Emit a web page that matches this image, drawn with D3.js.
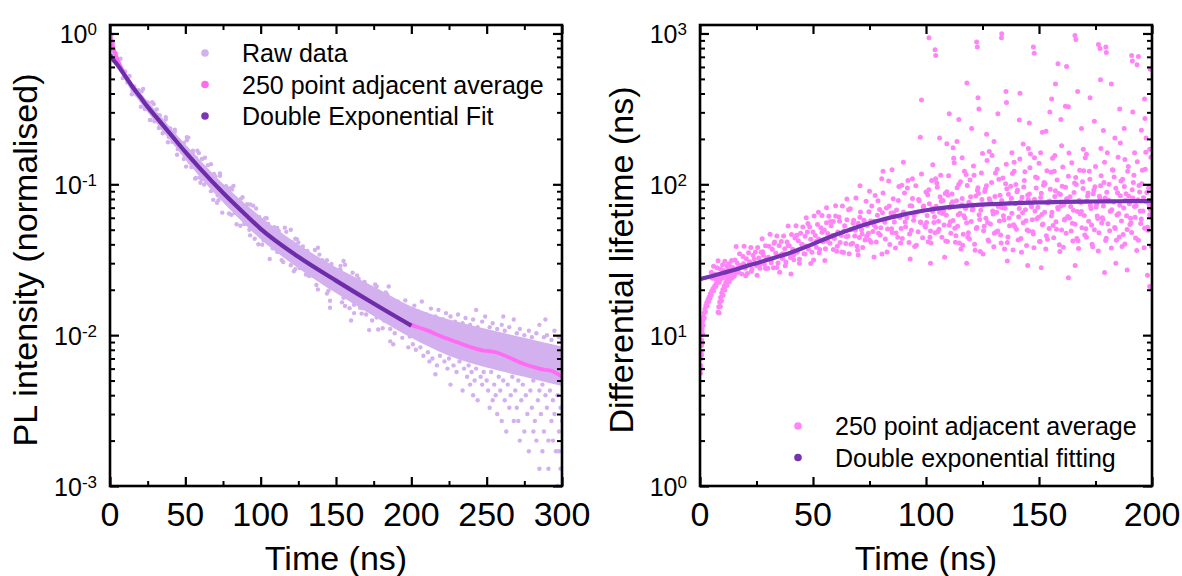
<!DOCTYPE html>
<html>
<head>
<meta charset="utf-8">
<script src="https://cdn.jsdelivr.net/npm/d3@7"></script>
<style>
    body { margin: 0; background: #fff; }
    svg text { font-family: "Liberation Sans", Arial, sans-serif; fill: #000; }
</style>
</head>
<body>
<script>
// ---------- left panel: PL decay ----------
var leftXTicks = [0, 50, 100, 150, 200, 250, 300];
var leftYExp = [-3, -2, -1, 0];
var leftLegend = ["Raw data", "250 point adjacent average", "Double Exponential Fit"];

// dense core of the raw data cloud (lower / upper edge)
var rawBandT = [0, 3, 6, 10, 20, 30, 40, 50, 60, 75, 90, 100, 125, 150, 175, 200, 225, 250, 275, 300];
var rawBandLo = [0.80, 0.68, 0.59, 0.49, 0.35, 0.26, 0.195, 0.146, 0.111, 0.076, 0.0535, 0.0432, 0.0278, 0.019, 0.0134, 0.0096, 0.0073, 0.0061, 0.0053, 0.0046];
var rawBandHi = [1.0, 0.80, 0.68, 0.56, 0.41, 0.312, 0.238, 0.184, 0.144, 0.101, 0.074, 0.061, 0.040, 0.0282, 0.021, 0.0155, 0.0127, 0.011, 0.0096, 0.0084];

var rawPoints = [
    [1,0.98],[2.5,0.733],[4,0.733],[5.5,0.637],[7,0.68],[8.5,0.506],[10,0.559],[11.5,0.474],[13,0.523],[14.5,0.395],
    [16,0.446],[17.5,0.394],[19,0.421],[20.5,0.327],[22,0.429],[23.5,0.33],[25,0.349],[26.5,0.267],[28,0.35],[29.5,0.262],
    [31,0.314],[32.5,0.236],[34,0.267],[35.5,0.235],[37,0.279],[38.5,0.19],[40,0.235],[41.5,0.191],[43,0.23],[44.5,0.157],
    [46,0.194],[47.5,0.165],[49,0.188],[50.5,0.131],[52,0.204],[53.5,0.143],[55,0.16],[56.5,0.109],[58,0.167],[59.5,0.111],
    [61,0.147],[62.5,0.0997],[64,0.123],[65.5,0.104],[67,0.136],[68.5,0.0789],[70,0.1126],[71.5,0.0845],[73,0.1138],[74.5,0.0649],
    [76,0.0935],[77.5,0.0754],[79,0.0938],[80.5,0.0628],[82,0.0977],[83.5,0.069],[85,0.0775],[86.5,0.0531],[88,0.082],[89.5,0.0549],
    [91,0.0737],[92.5,0.05],[94,0.0619],[95.5,0.0523],[97,0.0691],[98.5,0.0401],[100,0.0575],
    [102,0.0426],[104,0.0596],[106,0.032],[108,0.0485],[110,0.0383],[112,0.049],[114,0.0314],[116,0.0516],[118,0.0353],[120,0.0403],
    [122,0.0265],[124,0.0433],[126,0.0278],[128,0.0387],[130,0.0252],[132,0.0321],[134,0.0268],[136,0.0367],[138,0.0201],[140,0.0302],
    [142,0.0223],[144,0.0314],[146,0.0169],[148,0.026],[150,0.0207],[152,0.0272],[154,0.0165],[156,0.0293],[158,0.0193],[160,0.0226],
    [162,0.014],[164,0.0249],[166,0.0152],[168,0.0223],[170,0.0137],[172,0.0185],[174,0.0151],[176,0.0217],[178,0.0109],[180,0.0177],
    [182,0.0125],[184,0.0186],[186,0.0091],[188,0.0152],[190,0.0118],[192,0.0157],[194,0.0096],[196,0.017],[198,0.0112],[200,0.0132],
    [51,0.196],[54,0.13],[57,0.15],[60,0.1023],[63,0.15],[66,0.1037],[69,0.117],[72,0.0786],[75,0.0948],[78,0.0754],
    [81,0.0924],[84,0.0543],[87,0.075],[90,0.0563],[93,0.0735],[96,0.0436],[99,0.0553],[102,0.0463],[105,0.0547],[108,0.0377],
    [111,0.0513],[114,0.035],[117,0.0414],[120,0.0291],[123,0.0436],[126,0.0314],[129,0.0359],[132,0.0247],[135,0.0307],[138,0.0249],
    [141,0.0314],[144,0.0189],[147,0.0268],[150,0.0206],[153,0.0288],[156,0.0156],[159,0.0218],[162,0.0159],[165,0.0237],[168,0.0151],
    [171,0.0192],[174,0.0125],[177,0.021],[180,0.0143],[183,0.0173],[186,0.011],[189,0.0147],[192,0.0116],[195,0.0156],[198,0.0083],
    [146,0.0152],[160,0.0125],[172,0.0108],[188,0.0087],[155,0.031],[185,0.021],[120,0.05],[138,0.038],
    [2,0.86],[3.5,0.7],[6,0.62],[9,0.56],[12,0.5],[15,0.42],[18,0.41],[21,0.36],[24,0.345],[27,0.3],
    [30,0.27],[33,0.27],[36,0.25],[39,0.21],[42,0.21],[45,0.18],[48,0.178],
    [21,0.413],[23,0.316],[25,0.346],[27,0.267],[29,0.341],[31,0.264],[33,0.287],[35,0.218],[37,0.269],[39,0.206],
    [41,0.218],[43,0.223],[45,0.171],[47,0.189],[49,0.147],[51,0.205],[53,0.14],[55,0.167],[57,0.11],[59,0.161],
    [61,0.108],[63,0.125],[65,0.134],[67,0.0901],[69,0.111],[71,0.0755],[73,0.118],[75,0.0808],[77,0.0972],[79,0.0641],
    [81,0.0949],[83,0.0644],[85,0.0741],[87,0.0804],[89,0.0545],[91,0.0677],[93,0.0459],[95,0.0722],[97,0.0497],[99,0.0607],
    [101,0.0398],[103,0.0596],[105,0.0409],[107,0.0476],[109,0.052],[111,0.0356],[113,0.0446],[115,0.0305],[117,0.0484],[119,0.0337],
    [121,0.0411],[123,0.0274],[125,0.0412],[127,0.0283],[129,0.0331],[131,0.0362],[133,0.0249],[135,0.0312],[137,0.0215],[139,0.0342],
    [141,0.0239],[143,0.0292],[145,0.0197],[147,0.0296],[149,0.0205],[151,0.0242],[153,0.0271],[155,0.0177],[157,0.0232],[159,0.0151],
    [161,0.0259],[163,0.0173],[165,0.022],[167,0.0139],[169,0.0225],[171,0.0147],[173,0.0179],[175,0.0199],[177,0.0131],[179,0.0171],
    [181,0.0111],[183,0.0192],[185,0.0128],[187,0.0163],[189,0.0103],[191,0.0167],[193,0.011],[195,0.0133],[197,0.0149],[199,0.0098],
    [202,0.0157],[205,0.0143],[207,0.0167],[210,0.0137],[213,0.015],[216,0.0133],[218,0.0147],[221,0.0127],[223,0.014],[226,0.0133],
    [229,0.0123],[231,0.0137],[234,0.012],[236,0.013],[239,0.0117],[241,0.0127],[244,0.0113],[247,0.0123],[249,0.0133],[252,0.0113],
    [254,0.012],[257,0.011],[260,0.0117],[262,0.0107],[265,0.0113],[268,0.0127],[270,0.0103],[272,0.011],[275,0.01],[278,0.0107],
    [280,0.0097],[283,0.0103],[285,0.0117],[288,0.0097],[290,0.01],[293,0.0093],[295,0.0107],[298,0.0097],[300,0.0093],
    [243,0.0147],[261,0.0133],[289,0.0127],
    [204,0.0113],[209,0.0097],[215,0.0107],[220,0.009],[227,0.0097],[233,0.0087],[238,0.0093],[245,0.0083],[251,0.009],[256,0.008],
    [263,0.0083],[267,0.0077],[274,0.008],[279,0.0073],[286,0.0077],[292,0.007],[297,0.0073],
    [201,0.0087],[203,0.008],[206,0.0083],[208,0.0073],[211,0.0077],[212,0.0067],[214,0.007],[217,0.0063],[219,0.0073],[222,0.0067],
    [224,0.006],[225,0.007],[228,0.0063],[230,0.0057],[232,0.0067],[235,0.006],[237,0.0053],[238,0.0063],[240,0.0057],[242,0.005],
    [243,0.006],[246,0.0053],[247,0.0047],[248,0.0057],[250,0.005],[251,0.0043],[253,0.0057],[255,0.0047],[256,0.004],[258,0.0053],
    [259,0.0043],[261,0.005],[262,0.0037],[264,0.0047],[266,0.004],[267,0.0053],[269,0.0043],[270,0.0033],[271,0.005],[273,0.0037],
    [274,0.0047],[276,0.004],[277,0.003],[279,0.0043],[280,0.0033],[281,0.005],[282,0.0027],[284,0.0037],[285,0.0043],[286,0.003],
    [287,0.0047],[288,0.0023],[289,0.004],[290,0.0033],[291,0.002],[292,0.0043],[293,0.0027],[294,0.0037],[295,0.003],[296,0.0017],
    [297,0.004],[298,0.0023],[299,0.0033],[300,0.0027],
    [226,0.0047],[234,0.0043],[241,0.004],[252,0.0033],[257,0.003],[260,0.0027],[263,0.0023],[268,0.0027],[272,0.002],[275,0.0023],
    [278,0.0017],[283,0.002],[285,0.0013],[291,0.0013],[294,0.002],[297,0.001],[299,0.0013],[244,0.0037],[265,0.0033],[254,0.0037],
    [271,0.0027],[281,0.0023],[287,0.0017],[298,0.0017],[216,0.0055],[239,0.0047]
];

var avgT = [0, 1, 2, 3, 5, 8, 10, 15, 20, 25, 30, 40, 50, 60, 75, 90, 100, 125, 150, 175, 200, 210, 220, 230, 240, 248, 252, 256, 265, 272, 280, 288, 293, 300];
var avgV = [1.0, 0.9, 0.82, 0.76, 0.67, 0.575, 0.53, 0.445, 0.382, 0.327, 0.285, 0.216, 0.164, 0.1266, 0.0878, 0.0628, 0.0507, 0.0331, 0.023, 0.0162, 0.0117, 0.0108, 0.0098, 0.009, 0.0083, 0.0079, 0.00785, 0.0077, 0.0071, 0.0066, 0.0062, 0.0059, 0.0058, 0.0053];

var fitT = [0, 2, 5, 10, 15, 20, 25, 30, 40, 50, 60, 75, 90, 100, 125, 150, 175, 200];
var fitV = [0.72, 0.673, 0.618, 0.523, 0.442, 0.38, 0.326, 0.284, 0.216, 0.164, 0.1266, 0.0878, 0.0628, 0.0507, 0.0331, 0.023, 0.0162, 0.01156];

// ---------- right panel: differential lifetime ----------
var rightXTicks = [0, 50, 100, 150, 200];
var rightYExp = [0, 1, 2, 3];
var rightLegend = ["250 point adjacent average", "Double exponential fitting"];

var lifePoints = [
    // early branches
    [0.2,5.6],[0.3,6.3],[0.4,7.0],[0.5,7.8],[0.6,8.5],[0.7,9.3],[0.8,10.1],[0.9,10.9],[1.0,11.6],[1.2,12.4],
    [1.5,13.2],[1.8,14.0],[2.2,14.9],[2.6,15.7],[3.0,16.4],[3.5,17.2],[4.0,17.9],[4.6,18.8],[5.2,19.6],[5.8,20.4],
    [6.5,21.2],[7.2,22.0],[8.0,22.8],[8.8,23.5],[9.6,24.3],[10.5,25.1],[11.5,26.0],[12.5,27.0],[13.5,27.9],
    [0.5,6.0],[0.7,7.4],[0.9,8.8],[1.1,10.2],[1.4,11.6],[1.9,13.0],[2.4,14.3],[3.2,15.6],[3.8,16.7],[4.4,17.6],
    [5.0,18.5],[6.0,19.7],[7.0,21.0],[8.5,22.4],[10.0,23.9],[11.2,25.0],[12.8,26.4],
    [8.0,14.2],[8.3,15.4],[8.7,16.6],[9.1,17.8],[9.6,19.0],[10.1,20.1],[10.7,21.2],[11.4,22.3],[12.1,23.3],[12.9,24.3],
    [13.8,25.2],[14.7,26.1],[15.7,27.0],[16.8,27.9],[18.0,28.8],[19.3,29.7],[8.5,14.0],[9.0,15.5],[9.5,16.9],[10.2,18.4],
    [11.0,19.9],[11.9,21.3],[12.9,22.6],[14.0,23.8],[15.2,25.0],[16.5,26.1],
    // early band
    [5,26.1],[5.5,23.8],[6,28.6],[6.5,25.4],[7,23.6],[7.5,28.0],[8,31.1],[8.5,25.0],[9,27.5],[9.5,23.9],
    [10,29.3],[10.5,26.8],[11,30.9],[11.5,25.0],[12,28.7],[12.5,26.5],[13,29.7],[13.5,25.9],[14,31.2],[14.5,28.1],
    [15,24.6],[15.5,31.5],[16,38.7],[16.5,30.1],[17,26.1],[17.5,34.6],[18,28.8],[18.5,25.4],[19,33.2],[19.5,38.8],
    [20,27.8],[20.5,32.1],[21,25.6],[21.5,35.2],[22,30.7],[22.5,38.1],[23,27.3],[23.5,33.8],[24,29.9],[24.5,35.6],
    [25,28.8],[25.5,38.1],[26,32.5],[26.5,27.8],[27,35.5],[27.5,43.6],[28,33.9],[28.5,29.4],[29,39.1],[29.5,32.5],
    [30,27.8],[30.5,38.8],[31,46.6],[31.5,31.1],[32,37.1],[32.5,28.0],[33,41.4],[33.5,35.1],[34,45.5],[34.5,30.1],
    [35,39.3],[35.5,33.8],[36,41.8],[36.5,32.2],[37,45.4],[37.5,37.4],[38,30.6],[38.5,41.5],[39,52.9],[39.5,39.2],
    [40,32.7],[40.5,46.4],[41,37.1],[41.5,31.6],[42,44.0],[42.5,53.1],[43,35.5],[43.5,42.3],[44,31.8],[44.5,47.4],
    [45,40.1],[45.5,52.2],[46,34.6],[46.5,45.2],[47,39.0],[47.5,48.2],[48,37.1],[48.5,52.4],[49,43.3],[49.5,35.5],
    [50,48.2],[50.5,61.6],[51,45.7],[51.5,38.2],[52,54.2],[52.5,43.4],[53,37.0],[53.5,51.6],[54,62.2],[54.5,41.6],
    [55,49.7],[55.5,37.4],[56,55.6],[56.5,47.2],[57,61.3],[57.5,40.7],[58,53.1],[58.5,45.8],[59,56.7],[59.5,43.7],[60,61.6],
    [20.25,24.8],[21.5,29.3],[22.75,26.5],[24,32.0],[25.25,25.0],[26.5,29.6],[27.75,35.7],[29,27.7],[30.25,32.8],[31.5,30.2],
    [32.75,40.6],[34,28.1],[35.25,26.1],[36.5,34.6],[37.75,28.8],[39,39.3],[40.25,25.4],[41.5,34.1],[42.75,46.0],[44,30.0],
    [45.25,39.9],[46.5,34.5],[47.75,55.0],[49,29.8],[50.25,31.5],[51.5,41.9],[52.75,35.2],[54,48.1],[55.25,31.2],[56.5,41.9],
    [57.75,56.6],[59,37.0],
    // 60 - 200 ns cloud
    [60.5,36.0],[61,48.3],[61.5,60.8],[62,41.2],[62.5,45.8],[63,71.8],[63.5,35.3],[64,53.1],[64.5,40.5],[65,58.2],
    [65.5,45.4],[66,34.6],[66.5,68.9],[67,50.2],[67.5,40.7],[68,57.8],[68.5,45.5],[69,81.2],[69.5,38.9],[70,55.1],
    [70.5,44.4],[71,65.6],[71.5,50.0],[72,38.1],[72.5,57.7],[73,42.7],[73.5,77.1],[74,53.3],[74.5,47.3],[75,42.6],
    [75.5,57.2],[76,71.9],[76.5,48.6],[77,53.9],[77.5,84.4],[78,41.5],[78.5,62.3],[79,47.4],[79.5,68.1],[80,51.5],
    [80.5,34.5],[81,87.5],[81.5,58.3],[82,43.4],[82.5,69.7],[83,50.5],[83.5,105],[84,39.9],[84.5,64.6],[85,48.0],
    [85.5,80.3],[86,56.2],[86.5,37.8],[87,67.5],[87.5,44.5],[88,96.7],[88.5,60.3],[89,51.0],[89.5,43.7],[90,65.5],
    [90.5,87.5],[91,52.3],[91.5,60.1],[92,105.8],[92.5,41.1],[93,72.1],[93.5,49.6],[94,80.4],[94.5,57.8],[95,38.7],
    [95.5,98.0],[96,65.2],[96.5,48.5],[97,77.7],[97.5,56.2],[98,117],[98.5,44.3],[99,71.7],[99.5,53.1],[100,88.8],
    [100.5,62.1],[101,41.6],[101.5,74.3],[102,49.0],[102.5,106],[103,66.1],[103.5,55.9],[104,47.8],[104.5,71.6],[105,95.5],
    [105.5,57.0],[106,65.4],[106.5,115],[107,44.5],[107.5,78.2],[108,53.7],[108.5,86.9],[109,62.3],[109.5,41.7],[110,114],
    [110.5,69.9],[111,47.4],[111.5,86.4],[112,57.5],[112.5,139],[113,41.3],[113.5,77.7],[114,52.8],[114.5,100],[115,64.4],
    [115.5,37.3],[116,80.4],[116.5,46.7],[117,122],[117.5,69.2],[118,55.6],[118.5,44.8],[119,76.0],[119.5,107],[120,56.6],
    [120.5,67.6],[121,132],[121.5,40.0],[122,83.8],[122.5,51.8],[123,94.9],[123.5,62.9],[124,35.8],[124.5,119],[125,72.6],
    [125.5,49.2],[126,89.5],[126.5,59.5],[127,144],[127.5,42.7],[128,80.3],[128.5,54.6],[129,103],[129.5,66.5],[130,38.5],
    [130.5,83.0],[131,48.2],[131.5,126],[132,71.2],[132.5,57.2],[133,46.1],[133.5,78.1],[134,110],[134.5,58.1],[135,69.4],
    [135.5,136],[136,41.1],[136.5,85.9],[137,53.1],[137.5,97.2],[138,64.4],[138.5,36.7],[139,122],[139.5,74.3],[140,50.3],
    [140.5,91.6],[141,60.9],[141.5,147],[142,43.7],[142.5,82.1],[143,55.7],[143.5,106],[144,67.9],[144.5,39.3],[145,84.6],
    [145.5,49.1],[146,129],[146.5,72.6],[147,58.2],[147.5,46.9],[148,79.5],[148.5,112],[149,59.1],[149.5,70.5],[150,138],
    [150.5,41.7],[151,87.3],[151.5,53.9],[152,98.7],[152.5,65.4],[153,37.2],[153.5,123],[154,75.3],[154.5,51.0],[155,92.8],
    [155.5,61.6],[156,149],[156.5,44.2],[157,83.1],[157.5,56.4],[158,107],[158.5,68.7],[159,39.7],[159.5,85.6],[160,49.7],
    [160.5,130],[161,73.3],[161.5,58.9],[162,47.4],[162.5,80.3],[163,113],[163.5,59.7],[164,71.2],[164.5,139],[165,42.1],
    [165.5,88.1],[166,54.4],[166.5,99.7],[167,66.0],[167.5,37.6],[168,124],[168.5,75.9],[169,51.5],[169.5,93.7],[170,62.2],
    [170.5,150],[171,44.5],[171.5,83.7],[172,56.9],[172.5,108],[173,69.2],[173.5,40.0],[174,86.1],[174.5,50.0],[175,131],
    [175.5,73.9],[176,59.3],[176.5,47.7],[177,80.9],[177.5,114],[178,60.1],[178.5,71.7],[179,140],[179.5,42.4],[180,88.7],
    [180.5,54.7],[181,100],[181.5,66.4],[182,37.8],[182.5,125],[183,76.4],[183.5,51.7],[184,94.2],[184.5,62.5],[185,151],
    [185.5,44.8],[186,84.1],[186.5,57.2],[187,108],[187.5,69.6],[188,40.2],[188.5,86.6],[189,50.2],[189.5,131],[190,74.2],
    [190.5,59.5],[191,47.9],[191.5,81.2],[192,115],[192.5,60.4],[193,72.0],[193.5,141],[194,42.6],[194.5,89.0],[195,55.0],
    [195.5,101],[196,66.6],[196.5,37.9],[197,126],[197.5,76.7],[198,51.9],[198.5,94.6],[199,62.8],[199.5,151],
    [100.25,55.9],[101.25,92.1],[102.25,40.8],[103.25,69.1],[104.25,109],[105.25,48.4],[106.25,82.6],[107.25,64.1],[108.25,32.9],[109.25,89.3],
    [110.25,53.6],[111.25,74.3],[112.25,149],[113.25,45.6],[114.25,62.8],[115.25,104],[116.25,39.5],[117.25,59.8],[118.25,98.2],[119.25,43.4],
    [120.25,73.3],[121.25,115],[122.25,51.0],[123.25,86.9],[124.25,67.3],[125.25,34.5],[126.25,93.2],[127.25,55.9],[128.25,77.4],[129.25,155],
    [130.25,47.4],[131.25,65.2],[132.25,108],[133.25,40.9],[134.25,61.8],[135.25,101],[136.25,44.8],[137.25,75.5],[138.25,118],[139.25,52.5],
    [140.25,89.4],[141.25,69.2],[142.25,35.4],[143.25,95.8],[144.25,57.3],[145.25,79.3],[146.25,159],[147.25,48.4],[148.25,66.6],[149.25,110],
    [150.25,41.7],[151.25,63.0],[152.25,103],[153.25,45.6],[154.25,76.9],[155.25,120],[156.25,53.3],[157.25,90.7],[158.25,70.2],[159.25,35.9],
    [160.25,97.0],[161.25,58.1],[162.25,80.3],[163.25,161],[164.25,49.0],[165.25,67.4],[166.25,111],[167.25,42.2],[168.25,63.7],[169.25,104],
    [170.25,46.1],[171.25,77.6],[172.25,122],[173.25,53.8],[174.25,91.5],[175.25,70.8],[176.25,36.2],[177.25,97.8],[178.25,58.6],[179.25,81.0],
    [180.25,162],[181.25,49.3],[182.25,67.9],[183.25,112],[184.25,42.5],[185.25,64.1],[186.25,105],[187.25,46.4],[188.25,78.1],[189.25,122],
    [190.25,54.1],[191.25,92.0],[192.25,71.2],[193.25,36.4],[194.25,98.3],[195.25,58.8],[196.25,81.3],[197.25,163],[198.25,49.6],[199.25,68.2],
    [60.75,38.9],[61.75,56.8],[62.75,35.6],[63.75,49.2],[64.75,45.1],[65.75,67.7],[66.75,40.1],[67.75,55.2],[68.75,49.6],[69.75,36.5],
    [70.75,60.6],[71.75,46.9],[72.75,56.4],[73.75,45.3],[74.75,65.9],[75.75,41.3],[76.75,56.9],[77.75,51.9],[78.75,77.9],[79.75,46.1],
    [80.75,64.9],[81.75,56.1],[82.75,35.6],[83.75,71.9],[84.75,50.8],[85.75,64.9],[86.75,47.6],[87.75,78.2],[88.75,40.9],[89.75,63.9],
    [90.75,56.2],[91.75,94.4],[92.75,46.8],[93.75,71.9],[94.75,62.1],[95.75,39.4],[96.75,79.2],[97.75,55.8],[98.75,71.1],[99.75,52.1],
    [100.75,85.4],[101.75,44.5],[102.75,69.4],[103.75,60.9],[104.75,102],[105.75,50.4],[106.75,77.3],[107.75,66.4],[108.75,42.1],[109.75,84.5],
    [110.75,56.5],[111.75,76.6],[112.75,51.2],[113.75,94.8],[114.75,40.8],[115.75,73.2],[116.75,61.9],[117.75,116],[118.75,47.8],[119.75,82.8],
    [120.75,68.3],[121.75,36.5],[122.75,91.3],[123.75,58.5],[124.75,79.2],[125.75,52.8],[126.75,97.8],[127.75,42.0],[128.75,75.3],[129.75,63.6],
    [130.75,119],[131.75,49.0],[132.75,84.7],[133.75,69.9],[134.75,37.3],[135.75,93.3],[136.75,59.8],[137.75,80.8],[138.75,53.9],[139.75,99.8],
    [140.75,42.8],[141.75,76.7],[142.75,64.8],[143.75,121],[144.75,49.8],[145.75,86.2],[146.75,71.1],[147.75,37.9],[148.75,94.6],[149.75,60.6],
    [150.75,81.9],[151.75,54.6],[152.75,101],[153.75,43.3],[154.75,77.6],[155.75,65.4],[156.75,122],[157.75,50.3],[158.75,87.0],[159.75,71.8],
    [160.75,38.2],[161.75,95.6],[162.75,61.2],[163.75,82.6],[164.75,55.2],[165.75,102],[166.75,43.7],[167.75,78.2],[168.75,66.0],[169.75,123],
    [170.75,50.7],[171.75,87.6],[172.75,72.3],[173.75,38.5],[174.75,96.3],[175.75,61.6],[176.75,83.2],[177.75,55.5],[178.75,103],[179.75,43.9],
    [180.75,78.6],[181.75,66.4],[182.75,124],[183.75,51.0],[184.75,88.0],[185.75,72.6],[186.75,38.7],[187.75,96.6],[188.75,61.8],[189.75,83.5],
    [190.75,55.7],[191.75,103],[192.75,44.1],[193.75,78.9],[194.75,66.6],[195.75,124],[196.75,51.1],[197.75,88.4],[198.75,72.9],[199.75,38.8],
    // sparse high and low values
    [98,362],[101.3,938],[104.3,715],[97.5,205],[118.1,470],[122.7,814],[123,375],[123.4,316],[110.3,294],[114.5,269],
    [106,203],[109.2,186],[135.4,412],[135.6,348],[133.4,938],[147.9,739],[141.3,267],[145.7,255],[153.1,225],[155.6,368],
    [157.3,462],[158.4,631],[162.2,603],[166.3,912],[167.1,412],[161.7,329],[163,327],[177,794],[179.8,748],[177.2,494],
    [182,462],[172.6,375],[174.5,262],[178.5,227],[185.7,316],[191.3,656],[193.4,621],[199.2,580],[196.7,368],[191.5,302],
    [196.9,273],[199,171],[195.3,228],[187.7,234],[183.6,203],[168.8,234],[159.7,269],[151.5,221],[154.8,302],[141.6,401],
    [131.8,294],[126.8,215],[130.1,192],[120.2,234],[113.7,192],[138,162],[145.3,173],[150.7,162],[169.6,171],[177.4,173],
    [192.3,162],[197.4,203],[94,109],[89.3,98.5],[122.4,877],[104,780],[147.5,813],[176.3,846],[179.6,813],[191,715],
    [194,703],[165.9,970],[133.5,996],
    [80.4,109],[70.8,98],[52.4,65.3],[75,90],[85,125],[112,175],[128,165],[143,185],[160,180],[171,158],
    [186,188],[116,150],[139,140],[157,155],[188,146],[148,150],[125,160],[103,135],[90,140],[81,122],
    [65,80],[60,72],[56,70],[47,60],
    [151,28],[166,29],[179,26],[189,27],[199,21],[198,25],[184,30],[136,31],[118,30],[102,30],
    [93,32],[77,33],[70,34],[163,24],[145,29]
];

var lifeFitT = [0, 5, 10, 15, 20, 25, 30, 35, 40, 45, 50, 55, 60, 65, 70, 75, 80, 85, 90, 95, 100, 110, 120, 130, 140, 150, 160, 170, 180, 190, 200];
var lifeFitV = [23.5, 24.6, 25.8, 27, 28.5, 30, 31.6, 33.3, 35.2, 37.5, 40.2, 43.2, 46.3, 49.3, 52.3, 55.2, 58, 60.6, 63, 65.3, 67.3, 70.5, 72.6, 74, 75.1, 75.8, 76.4, 76.8, 77.1, 77.3, 77.5];

// colours
var cRaw = "#d3b1ee", cAvg = "#ff6cf4", cFitL = "#6c2ea8", cFitR = "#7434b2", cLife = "#ff84f8";

var plotTop = 25, plotBottom = 486;

var svg = d3.select("body").append("svg")
    .attr("width", 1182)
    .attr("height", 576);

function zip(a, b) {
    return a.map(function (d, i) { return [d, b[i]]; });
}

// frame, inward ticks on all four sides, tick labels
function drawAxes(g, x, y, xTicks, yExp, left, right) {
    var xMinor = [];
    for (var i = 0; i < xTicks.length - 1; i++) xMinor.push((xTicks[i] + xTicks[i + 1]) / 2);
    var yMajor = yExp.map(function (e) { return Math.pow(10, e); });
    var yMinor = [];
    yMajor.slice(0, -1).forEach(function (d) {
        for (var k = 2; k <= 9; k++) yMinor.push(k * d);
    });

    var sides = [
        [d3.axisBottom, x, "translate(0," + plotBottom + ")", xTicks, xMinor],
        [d3.axisTop, x, "translate(0," + plotTop + ")", xTicks, xMinor],
        [d3.axisLeft, y, "translate(" + left + ",0)", yMajor, yMinor],
        [d3.axisRight, y, "translate(" + right + ",0)", yMajor, yMinor]
    ];
    sides.forEach(function (s) {
        g.append("g").attr("transform", s[2])
            .call(s[0](s[1]).tickValues(s[3]).tickSize(-9).tickFormat(""))
            .call(function (a) { a.select(".domain").remove(); a.selectAll("line").attr("stroke", "#000").attr("stroke-width", 2.2); });
        g.append("g").attr("transform", s[2])
            .call(s[0](s[1]).tickValues(s[4]).tickSize(-5).tickFormat(""))
            .call(function (a) { a.select(".domain").remove(); a.selectAll("line").attr("stroke", "#000").attr("stroke-width", 2); });
    });

    g.append("rect")
        .attr("x", left).attr("y", plotTop)
        .attr("width", right - left).attr("height", plotBottom - plotTop)
        .attr("fill", "none").attr("stroke", "#000").attr("stroke-width", 2.6);

    g.selectAll(".xlab").data(xTicks).enter().append("text")
        .attr("x", function (d) { return x(d); })
        .attr("y", 526)
        .attr("text-anchor", "middle")
        .style("font-size", "34px")
        .text(function (d) { return d; });

    var ylab = g.selectAll(".ylab").data(yExp).enter().append("text")
        .attr("x", left - 13)
        .attr("y", function (d) { return y(Math.pow(10, d)) + 10; })
        .attr("text-anchor", "end")
        .style("font-size", "25px");
    ylab.append("tspan").text("10");
    ylab.append("tspan").attr("dy", -8).style("font-size", "17px").text(function (d) { return d; });
}

function drawLegend(g, x0, y0, labels, colours) {
    labels.forEach(function (lab, i) {
        g.append("circle")
            .attr("cx", x0).attr("cy", y0 + i * 31.5)
            .attr("r", 3.8).attr("fill", colours[i]);
        g.append("text")
            .attr("x", x0 + 37).attr("y", y0 + i * 31.5 + 9)
            .style("font-size", "25px")
            .text(lab);
    });
}

function clipFor(id, left, right) {
    svg.append("clipPath").attr("id", id).append("rect")
        .attr("x", left).attr("y", plotTop)
        .attr("width", right - left).attr("height", plotBottom - plotTop);
    return svg.append("g").attr("clip-path", "url(#" + id + ")");
}

// ---------- left panel ----------
(function () {
    var left = 110, right = 562;
    var x = d3.scaleLinear().domain([0, 300]).range([left, right]);
    var y = d3.scaleLog().domain([1e-3, 1.138]).range([plotBottom, plotTop]);
    var plot = clipFor("clipL", left, right);

    var band = d3.area()
        .x(function (d) { return x(d[0]); })
        .y0(function (d) { return y(d[1]); })
        .y1(function (d) { return y(d[2]); })
        .curve(d3.curveMonotoneX);
    plot.append("path")
        .datum(rawBandT.map(function (t, i) { return [t, rawBandLo[i], rawBandHi[i]]; }))
        .attr("d", band)
        .attr("fill", cRaw);

    plot.selectAll(".raw").data(rawPoints).enter().append("circle")
        .attr("cx", function (d) { return x(d[0]); })
        .attr("cy", function (d) { return y(d[1]); })
        .attr("r", 2.2)
        .attr("fill", cRaw);

    var line = d3.line()
        .x(function (d) { return x(d[0]); })
        .y(function (d) { return y(d[1]); })
        .curve(d3.curveMonotoneX);

    plot.append("path").datum(zip(avgT, avgV)).attr("d", line)
        .attr("fill", "none").attr("stroke", cAvg).attr("stroke-width", 3.8);
    plot.append("path").datum(zip(fitT, fitV)).attr("d", line)
        .attr("fill", "none").attr("stroke", cFitL).attr("stroke-width", 4.2);

    var g = svg.append("g");
    drawAxes(g, x, y, leftXTicks, leftYExp, left, right);
    drawLegend(g, 205, 53, leftLegend, [cRaw, cAvg, "#7a35b8"]);

    g.append("text")
        .attr("transform", "translate(" + (left + right) / 2 + ",570)")
        .attr("text-anchor", "middle")
        .style("font-size", "34px")
        .text("Time (ns)");
    g.append("text")
        .attr("transform", "translate(37,260)rotate(-90)")
        .attr("text-anchor", "middle")
        .style("font-size", "34px")
        .text("PL intensity (normalised)");
})();

// ---------- right panel ----------
(function () {
    var left = 700, right = 1152;
    var x = d3.scaleLinear().domain([0, 200]).range([left, right]);
    var y = d3.scaleLog().domain([1, 1138]).range([plotBottom, plotTop]);
    var plot = clipFor("clipR", left, right);

    plot.selectAll(".life").data(lifePoints).enter().append("circle")
        .attr("cx", function (d) { return x(d[0]); })
        .attr("cy", function (d) { return y(d[1]); })
        .attr("r", 2.5)
        .attr("fill", cLife);

    var line = d3.line()
        .x(function (d) { return x(d[0]); })
        .y(function (d) { return y(d[1]); })
        .curve(d3.curveMonotoneX);
    plot.append("path").datum(zip(lifeFitT, lifeFitV)).attr("d", line)
        .attr("fill", "none").attr("stroke", cFitR).attr("stroke-width", 4.2);

    var g = svg.append("g");
    drawAxes(g, x, y, rightXTicks, rightYExp, left, right);
    drawLegend(g, 798, 426, rightLegend, [cLife, cFitR]);

    g.append("text")
        .attr("transform", "translate(" + (left + right) / 2 + ",570)")
        .attr("text-anchor", "middle")
        .style("font-size", "34px")
        .text("Time (ns)");
    g.append("text")
        .attr("transform", "translate(633,260)rotate(-90)")
        .attr("text-anchor", "middle")
        .style("font-size", "34px")
        .text("Differential lifetime (ns)");
})();
</script>
</body>
</html>
